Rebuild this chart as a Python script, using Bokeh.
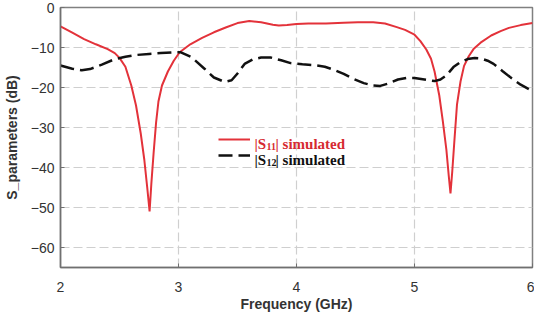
from bokeh.plotting import figure
from bokeh.models import Legend, LegendItem, Range1d, FixedTicker, Label
from bokeh.embed import file_html
from bokeh.resources import INLINE

freq_s11 = [2.00, 2.10, 2.20, 2.30, 2.40, 2.46, 2.50, 2.55, 2.60, 2.64, 2.68, 2.71, 2.735, 2.755,
            2.77, 2.79, 2.81, 2.83, 2.86, 2.91, 2.96, 3.01, 3.10, 3.20, 3.30, 3.40, 3.50, 3.60,
            3.70, 3.80, 3.85, 3.92, 4.00, 4.10, 4.25, 4.40, 4.52, 4.65, 4.75, 4.85, 4.92, 5.00,
            5.05, 5.10, 5.14, 5.17, 5.21, 5.24, 5.27, 5.29, 5.305, 5.32, 5.34, 5.36, 5.39, 5.42,
            5.46, 5.50, 5.56, 5.65, 5.73, 5.80, 5.90, 6.00]
s11_db = [-4.7, -6.3, -7.9, -9.2, -10.4, -11.4, -12.6, -14.8, -19.5, -24.5, -31.5, -38, -45, -51,
          -44, -36, -28.8, -23.5, -19.5, -16, -13.3, -11.2, -9.2, -7.6, -6.2, -5.0, -3.9, -3.4,
          -3.7, -4.3, -4.5, -4.4, -4.1, -4.0, -4.0, -3.8, -3.7, -3.7, -4.0, -4.9, -5.6, -6.8,
          -8.4, -10.5, -12.8, -16, -22, -28.4, -35.5, -42, -46.5, -41, -32.5, -24.3, -18.5, -14.6,
          -12.2, -10.4, -8.8, -7.0, -5.9, -5.1, -4.4, -3.9]

freq_s12 = [2.00, 2.10, 2.18, 2.25, 2.35, 2.46, 2.55, 2.63, 2.75, 2.85, 2.95, 3.02, 3.11, 3.22,
            3.30, 3.39, 3.45, 3.50, 3.56, 3.63, 3.70, 3.78, 3.87, 3.95, 4.05, 4.15, 4.24, 4.32,
            4.40, 4.48, 4.57, 4.65, 4.71, 4.78, 4.86, 4.93, 5.00, 5.10, 5.17, 5.22, 5.27, 5.33,
            5.39, 5.45, 5.51, 5.56, 5.62, 5.67, 5.75, 5.81, 5.90, 6.00]
s12_db = [-14.5, -15.3, -15.7, -15.4, -14.3, -12.9, -12.3, -11.9, -11.6, -11.4, -11.2, -11.2, -12.4, -15.3,
          -17.5, -18.6, -18.2, -16.5, -14.1, -13.0, -12.5, -12.5, -13.2, -13.9, -14.2, -14.4, -14.8, -15.6,
          -16.6, -17.8, -18.9, -19.5, -19.6, -19.0, -18.0, -17.6, -17.6, -18.1, -18.4, -18.0, -17.0, -14.9,
          -13.6, -12.9, -12.6, -12.7, -13.3, -14.1, -16.0, -17.4, -19.3, -20.9]

x_ticks = [2, 3, 4, 5, 6]
y_ticks = [0, -10, -20, -30, -40, -50, -60]
legend_parts = [("|S", "11", "| simulated"), ("|S", "12", "| simulated")]

p = figure(width=534, height=314, output_backend="svg", toolbar_location=None,
           x_range=Range1d(2, 6), y_range=Range1d(-65, 0),
           min_border_left=59, min_border_right=2, min_border_top=7, min_border_bottom=45)
p.background_fill_color = "white"
p.border_fill_color = "white"
p.outline_line_color = "#808080"
p.outline_line_width = 1.5

p.xaxis.ticker = FixedTicker(ticks=x_ticks)
p.yaxis.ticker = FixedTicker(ticks=y_ticks)
for ax in (p.xaxis[0], p.yaxis[0]):
    ax.axis_line_color = "#707070"
    ax.axis_line_width = 1.5
    ax.major_tick_line_color = "#707070"
    ax.major_tick_in = 4
    ax.major_tick_out = 0
    ax.minor_tick_line_color = None
    ax.major_label_text_font = "Liberation Sans"
    ax.major_label_text_font_size = "14px"
    ax.major_label_text_color = "#333333"
    ax.axis_label_text_font = "Liberation Sans"
    ax.axis_label_text_font_size = "14px"
    ax.axis_label_text_font_style = "bold"
    ax.axis_label_text_color = "#333333"
p.xaxis.axis_label = "Frequency (GHz)"
p.yaxis.axis_label = "S_parameters (dB)"
p.xaxis.major_label_standoff = 14
p.xaxis.axis_label_standoff = 1
p.yaxis.major_label_standoff = 6
p.yaxis.axis_label_standoff = 8

for g in (p.xgrid[0], p.ygrid[0]):
    g.grid_line_color = "#cfcfcf"
    g.grid_line_dash = "9 4"
    g.grid_line_width = 1.2

r11 = p.line(freq_s11, s11_db, line_color="#e3323a", line_width=2)
r12 = p.line(freq_s12, s12_db, line_color="#111111", line_width=2.5, line_dash="14 6")

leg1 = Legend(items=[LegendItem(label=" ", renderers=[r11])], location=(158, 120))
leg2 = Legend(items=[LegendItem(label=" ", renderers=[r12])], location=(158, 104))
for lg in (leg1, leg2):
    lg.padding = 0
    lg.margin = 0
    lg.border_line_color = None
    lg.background_fill_alpha = 0
    lg.glyph_width = 32
    lg.glyph_height = 16
    lg.label_height = 16
    lg.label_standoff = 5
    lg.label_text_font_size = "14px"
    p.add_layout(lg, "center")

# legend texts with real subscripts (screen units relative to plot frame)
colors = ["#d62a30", "#111111"]
baselines = [124, 108]
for (pre, sub, post), col, yb in zip(legend_parts, colors, baselines):
    common = dict(x_units="screen", y_units="screen", text_font="Liberation Serif",
                  text_font_style="bold", text_color=col, text_baseline="alphabetic")
    p.add_layout(Label(x=194, y=yb, text=pre, text_font_size="15px", **common))
    p.add_layout(Label(x=206, y=yb - 3, text=sub, text_font_size="10px", **common))
    p.add_layout(Label(x=215, y=yb, text=post, text_font_size="15px", **common))

open("out.html", "w").write(file_html(p, INLINE))
